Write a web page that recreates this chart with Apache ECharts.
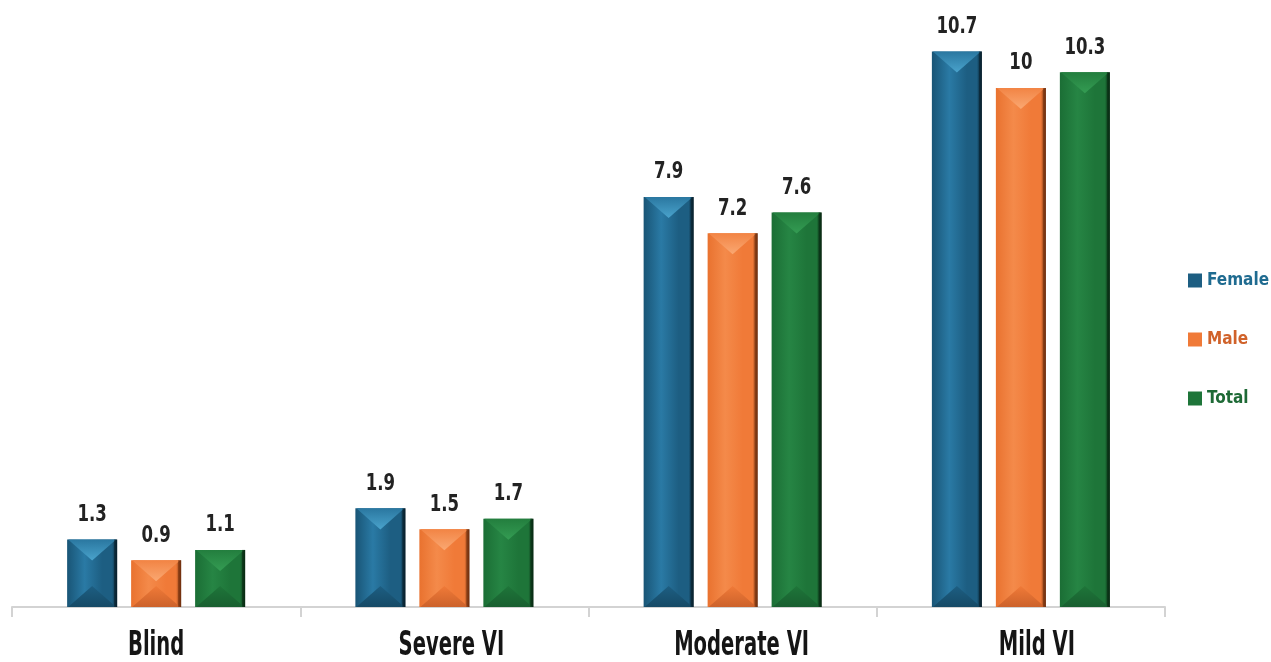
<!DOCTYPE html>
<html><head><meta charset="utf-8">
<script src="https://cdn.jsdelivr.net/npm/echarts@6/dist/echarts.min.js"></script>
<style>html,body{margin:0;padding:0;background:#fff}#c{width:1271px;height:662px}</style>
</head><body><div id="c"></div>
<script>
const categories = ['Blind', 'Severe VI', 'Moderate VI', 'Mild VI'];
const female = [1.3, 1.9, 7.9, 10.7];
const male = [0.9, 1.5, 7.2, 10];
const total = [1.1, 1.7, 7.6, 10.3];
const seriesNames = ['Female', 'Male', 'Total'];

// layout-only nudges for the category captions (pixels)
const captionNudge = [0, 7, 9, 16];

const FONT = '"DejaVu Sans Condensed", "Liberation Sans Narrow", sans-serif';
const palettes = [
  {base:'#1d5e82', light:'#2a7aa5', edge:'#195576', dark:'#081f2c', top0:'#2a77a0', top1:'#4aa3cc', bot:'#164a66', text:'#1f6b90'},
  {base:'#f07a38', light:'#f48a4a', edge:'#e9722f', dark:'#6e2e0e', top0:'#f28444', top1:'#faa872', bot:'#cc622b', text:'#d0622a'},
  {base:'#1e7539', light:'#268544', edge:'#1b6e35', dark:'#082a12', top0:'#237e3e', top1:'#349c53', bot:'#195f30', text:'#1e6a36'}
];

function makeRender(si){
  const p = palettes[si];
  return function(params, api){
    const cat = api.value(0), val = api.value(1);
    const top = api.coord([cat, val]);
    const base = api.coord([cat, 0]);
    const band = api.size([1, 0])[0];
    const w = band * 0.1735;
    const cx = top[0] + (si - 1) * band * 0.222;
    const x0 = cx - w / 2, x1 = cx + w / 2, y0 = top[1], y1 = base[1];
    const h = y1 - y0;
    const d = Math.min(w * 0.42, h / 2);
    const grad = new echarts.graphic.LinearGradient(0, 0, 1, 0, [
      {offset:0, color:p.edge},{offset:0.35, color:p.light},{offset:0.7, color:p.base},{offset:0.9, color:p.base},{offset:1, color:p.dark}
    ]);
    return {
      type:'group',
      children:[
        {type:'rect', shape:{x:x0, y:y0, width:w, height:h}, style:{fill:grad}},
        {type:'polygon', shape:{points:[[x0+1,y0],[x1-1,y0],[cx,y0+d]]},
          style:{fill:new echarts.graphic.LinearGradient(0,0,0,1,[{offset:0,color:p.top0},{offset:1,color:p.top1}])}},
        {type:'polygon', shape:{points:[[x0+1,y1],[x1-1,y1],[cx,y1-d]]},
          style:{fill:new echarts.graphic.LinearGradient(0,0,0,1,[{offset:0,color:p.base},{offset:1,color:p.bot}])}},
        {type:'rect', shape:{x:x1-3, y:y0, width:3, height:h}, style:{fill:p.dark, opacity:0.6}},
        {type:'text', x:cx, y:y0-13, scaleX:0.8, style:{text:String(val), fill:'#222', font:'bold 23px ' + FONT, align:'center', verticalAlign:'bottom'}}
      ]
    };
  };
}

function renderCategory(params, api){
  const cat = api.value(0);
  const p = api.coord([cat, 0]);
  return {type:'text', x:p[0] + captionNudge[cat], y:p[1] + 39, scaleX:0.64,
    style:{text:categories[cat], fill:'#151515', font:'bold 34px ' + FONT, align:'center', verticalAlign:'middle'}};
}

const dataSets = [female, male, total];
const chart = echarts.init(document.getElementById('c'));
const series = dataSets.map((arr,i)=>({
  name:seriesNames[i], type:'custom', renderItem:makeRender(i),
  itemStyle:{color:palettes[i].base},
  encode:{x:0, y:1},
  data: arr.map((v,j)=>[j, v])
}));
series.push({
  name:'categoryLabels', type:'custom', renderItem:renderCategory, silent:true,
  encode:{x:0, y:1}, data: categories.map((c,j)=>[j, 0])
});
chart.setOption({
  animation:false,
  grid:{left:12, right:106, top:36, bottom:55},
  legend:{
    orient:'vertical', left:1183, top:267, itemGap:42, itemWidth:14, itemHeight:14, icon:'rect', itemGap:42,
    data: seriesNames.map((n,i)=>({name:n, textStyle:{color:palettes[i].text}})),
    textStyle:{fontSize:17, fontWeight:'bold', fontFamily:FONT}
  },
  xAxis:{
    type:'category', data:categories, boundaryGap:true,
    axisLine:{lineStyle:{color:'#d3d3d3', width:2}},
    axisTick:{show:true, length:10, lineStyle:{color:'#d3d3d3', width:2}},
    axisLabel:{show:false}
  },
  yAxis:{type:'value', min:0, max:11, show:false, splitLine:{show:false}},
  series: series
});
</script></body></html>
